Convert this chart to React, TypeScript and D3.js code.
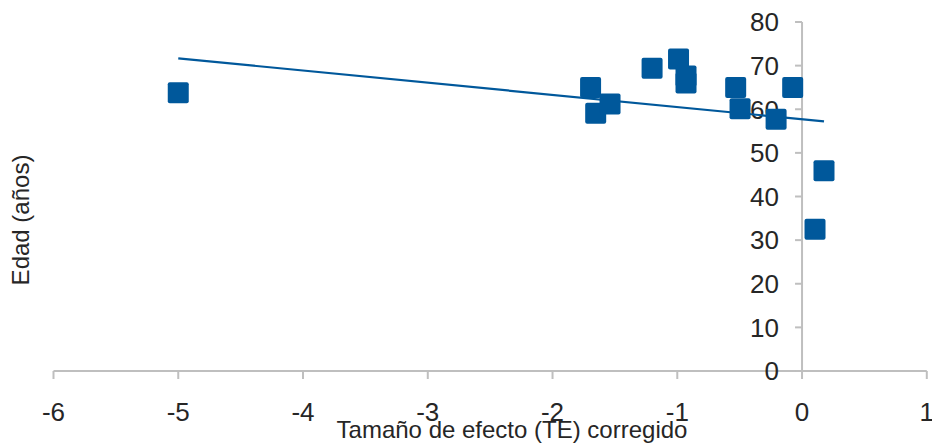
import React from "react";
import * as d3 from "d3";

const xValues = [-5, -1.695, -1.654, -1.539, -1.202, -0.99, -0.93, -0.93, -0.532, -0.497, -0.208, -0.075, 0.176, 0.104];
const yValues = [63.8, 65.0, 59.1, 61.2, 69.4, 71.5, 67.6, 66.0, 65.0, 60.1, 57.7, 65.0, 45.9, 32.5];
const xTicks = [-6, -5, -4, -3, -2, -1, 0, 1];
const yTicks = [0, 10, 20, 30, 40, 50, 60, 70, 80];
const xTitle = "Tamaño de efecto (TE) corregido";
const yTitle = "Edad (años)";

const W = 932;
const H = 444;
const BLUE = "#00589b";
const AXIS = "#bfbfbf";
const TEXT = "#262626";
const FONT = "'Liberation Sans', Arial, sans-serif";

export default function App() {
  const x = d3.scaleLinear().domain([-6, 1]).range([53.5, 926.8]);
  const y = d3.scaleLinear().domain([0, 80]).range([371, 22]);

  const mx = d3.mean(xValues) as number;
  const my = d3.mean(yValues) as number;
  let sxy = 0;
  let sxx = 0;
  xValues.forEach((xv, i) => {
    sxy += (xv - mx) * (yValues[i] - my);
    sxx += (xv - mx) * (xv - mx);
  });
  const slope = sxy / sxx;
  const intercept = my - slope * mx;
  const [xmin, xmax] = d3.extent(xValues) as [number, number];
  const trend: [number, number][] = [
    [xmin, intercept + slope * xmin],
    [xmax, intercept + slope * xmax],
  ];
  const line = d3
    .line<[number, number]>()
    .x((d) => x(d[0]))
    .y((d) => y(d[1]));

  const x0 = x(0);
  const y0 = y(0);
  const sq = 21;

  return (
    <svg
      width={W}
      height={H}
      style={{ position: "absolute", left: 0, top: 0, background: "#fff" }}
      fontFamily={FONT}
    >
      {/* x axis */}
      <line x1={x(-6)} x2={x(1)} y1={y0} y2={y0} stroke={AXIS} strokeWidth={2} />
      {xTicks.map((t) => (
        <g key={"xt" + t}>
          <line x1={x(t)} x2={x(t)} y1={y0} y2={y0 + 8} stroke={AXIS} strokeWidth={2} />
          <text x={x(t)} y={421} textAnchor="middle" fontSize={26} fill={TEXT}>
            {t}
          </text>
        </g>
      ))}
      {/* y axis */}
      <line x1={x0} x2={x0} y1={y(0)} y2={y(80)} stroke={AXIS} strokeWidth={2} />
      {yTicks.map((t) => (
        <g key={"yt" + t}>
          <line x1={x0 - 7} x2={x0} y1={y(t)} y2={y(t)} stroke={AXIS} strokeWidth={2} />
          <text x={x0 - 23} y={y(t) + 9.3} textAnchor="end" fontSize={26} fill={TEXT}>
            {t}
          </text>
        </g>
      ))}
      {/* trend line */}
      <path d={line(trend) || ""} fill="none" stroke={BLUE} strokeWidth={2.2} />
      {/* points */}
      {xValues.map((xv, i) => (
        <rect
          key={"p" + i}
          x={x(xv) - sq / 2}
          y={y(yValues[i]) - sq / 2}
          width={sq}
          height={sq}
          rx={2}
          fill={BLUE}
        />
      ))}
      {/* titles */}
      <text x={512} y={438} textAnchor="middle" fontSize={24} fill={TEXT}>
        {xTitle}
      </text>
      <text
        transform={`translate(29,220) rotate(-90)`}
        textAnchor="middle"
        fontSize={24}
        fill={TEXT}
      >
        {yTitle}
      </text>
    </svg>
  );
}
